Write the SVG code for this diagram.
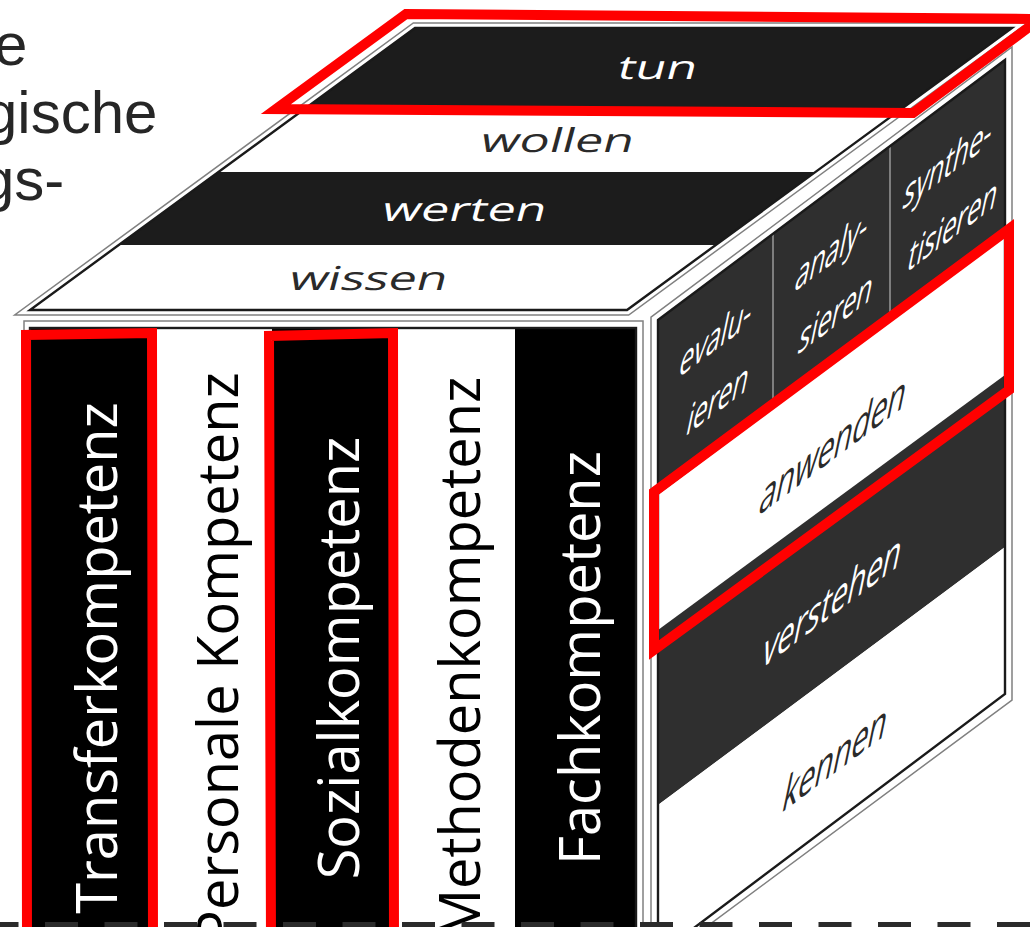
<svg xmlns="http://www.w3.org/2000/svg" width="1030" height="927" viewBox="0 0 1030 927">
  <style>
    .frame{fill:#fff;stroke:#808080;stroke-width:1.5}
    .edge{fill:none;stroke:#1a1a1a;stroke-width:2.4}
    .dk-top{fill:#1c1c1c}
    .dk-side{fill:#2f2f2f}
    .dk-front{fill:#000}
    .lt{fill:#fff}
    .hl{fill:none;stroke:#ff0000;stroke-width:10;stroke-linejoin:miter}
    .lbl{font-family:"Open Sans","DejaVu Sans",sans-serif;text-anchor:middle}
    .front{font-size:56px}
    .topf{font-size:50px}
    .band{font-size:33px}
    .col{font-size:29px}
    .on-dark{fill:#fff}
    .on-light{fill:#2a2a2a}
    .front-light{fill:#000}
    .heading{font-family:"Liberation Sans",Arial,sans-serif;font-size:60px;fill:#262626}
    .divider{stroke:#9a9a9a;stroke-width:1.5}
    .dash{stroke:#2b2b2b;stroke-width:6;stroke-dasharray:33 26.5;stroke-dashoffset:14.5;fill:none}
  </style>

  <!-- heading fragment, clipped by the left edge -->
  <g id="heading">
    <text class="heading" x="-6" y="65">e</text>
    <text class="heading" x="-16" y="133">gische</text>
    <text class="heading" x="-19" y="200">gs-</text>
  </g>

  <!-- top face: attitude levels -->
  <g id="top-face">
    <polygon class="frame" points="14.7,315 628.7,315 1027.3,23 413.3,23"/>
    <g id="band-tun">
      <polygon class="dk-top" points="415,28 1012,28 902.8,108 305.8,108"/>
      <text class="lbl topf on-dark" transform="translate(655,79) skewX(-15) scale(1,0.66)">tun</text>
    </g>
    <g id="band-wollen">
      <polygon class="lt" points="305.8,108 902.8,108 815.4,172 218.4,172"/>
      <text class="lbl topf on-light" transform="translate(555,152) skewX(-15) scale(1,0.66)">wollen</text>
    </g>
    <g id="band-werten">
      <polygon class="dk-top" points="218.4,172 815.4,172 715.7,245 118.7,245"/>
      <text class="lbl topf on-dark" transform="translate(462,221) skewX(-15) scale(1,0.66)">werten</text>
    </g>
    <g id="band-wissen">
      <polygon class="lt" points="118.7,245 715.7,245 627,310 30,310"/>
      <text class="lbl topf on-light" transform="translate(366,290) skewX(-15) scale(1,0.66)">wissen</text>
    </g>
    <polygon class="edge" points="30,310 627,310 1012,28 415,28"/>
  </g>

  <!-- front face: competence areas -->
  <g id="front-face">
    <rect class="frame" x="24" y="321" width="619" height="620"/>
    <g id="col-transfer">
      <rect class="dk-front" x="30" y="328" width="121" height="612"/>
      <text class="lbl front on-dark" transform="translate(117,658) rotate(-90)">Transferkompetenz</text>
    </g>
    <g id="col-personal">
      <rect class="lt" x="151" y="328" width="121" height="612"/>
      <text class="lbl front front-light" transform="translate(238,658) rotate(-90)">Personale Kompetenz</text>
    </g>
    <g id="col-sozial">
      <rect class="dk-front" x="272" y="328" width="122" height="612"/>
      <text class="lbl front on-dark" transform="translate(359,658) rotate(-90)">Sozialkompetenz</text>
    </g>
    <g id="col-methode">
      <rect class="lt" x="394" y="328" width="121" height="612"/>
      <text class="lbl front front-light" transform="translate(480,658) rotate(-90)">Methodenkompetenz</text>
    </g>
    <g id="col-fach">
      <rect class="dk-front" x="515" y="328" width="121" height="612"/>
      <text class="lbl front on-dark" transform="translate(600,658) rotate(-90)">Fachkompetenz</text>
    </g>
    <rect class="edge" x="30" y="328" width="606" height="612"/>
  </g>

  <!-- right face: cognitive levels -->
  <g id="right-face">
    <polygon class="frame" points="651,317.2 1012,46.9 1012,700 651,968"/>
    <g id="band-upper">
      <polygon class="dk-side" points="658,320 1005,60 1005,236 658,495"/>
      <line class="divider" x1="773" y1="233.9" x2="773" y2="409.2"/>
      <line class="divider" x1="890" y1="146.2" x2="890" y2="321.8"/>
      <g id="cell-evaluieren">
        <text class="lbl col on-dark" transform="translate(713,352) skewY(-36.8) skewX(-14) scale(0.88,1.3)">evalu-</text>
        <text class="lbl col on-dark" transform="translate(715,414) skewY(-36.8) skewX(-14) scale(0.88,1.3)">ieren</text>
      </g>
      <g id="cell-analysieren">
        <text class="lbl col on-dark" transform="translate(829,266) skewY(-36.8) skewX(-14) scale(0.88,1.3)">analy-</text>
        <text class="lbl col on-dark" transform="translate(833,328) skewY(-36.8) skewX(-14) scale(0.88,1.3)">sieren</text>
      </g>
      <g id="cell-synthetisieren">
        <text class="lbl col on-dark" transform="translate(945,178) skewY(-36.8) skewX(-14) scale(0.88,1.3)">synthe-</text>
        <text class="lbl col on-dark" transform="translate(950,240) skewY(-36.8) skewX(-14) scale(0.88,1.3)">tisieren</text>
      </g>
    </g>
    <g id="band-anwenden">
      <polygon class="lt" points="658,495 1005,236 1005,375 658,630"/>
      <text class="lbl band on-light" transform="translate(830,462) skewY(-36.8) skewX(-14) scale(0.9,1.3)">anwenden</text>
    </g>
    <g id="band-verstehen">
      <polygon class="dk-side" points="658,630 1005,375 1005,547 658,805"/>
      <text class="lbl band on-dark" transform="translate(829,618) skewY(-36.8) skewX(-14) scale(0.9,1.3)">verstehen</text>
    </g>
    <g id="band-kennen">
      <polygon class="lt" points="658,805 1005,547 1005,694 658,955"/>
      <text class="lbl band on-light" transform="translate(832,775) skewY(-36.8) skewX(-14) scale(0.9,1.3)">kennen</text>
    </g>
    <polygon class="edge" points="658,320 1005,60 1005,694 658,955"/>
  </g>

  <!-- red highlight frames -->
  <g id="highlights">
    <polygon class="hl" points="276,109 406,14 1040,19 913,113"/>
    <polygon class="hl" points="654,492 1009,229 1009,390 654,650"/>
    <polyline class="hl" points="27,940 26,335 152,333 153,940"/>
    <polyline class="hl" points="271,940 269,336 393,333 394,940"/>
  </g>

  <!-- dashed boundary along the bottom -->
  <g id="connectors">
    <line class="dash" x1="0" y1="925" x2="1030" y2="925"/>
  </g>
</svg>
